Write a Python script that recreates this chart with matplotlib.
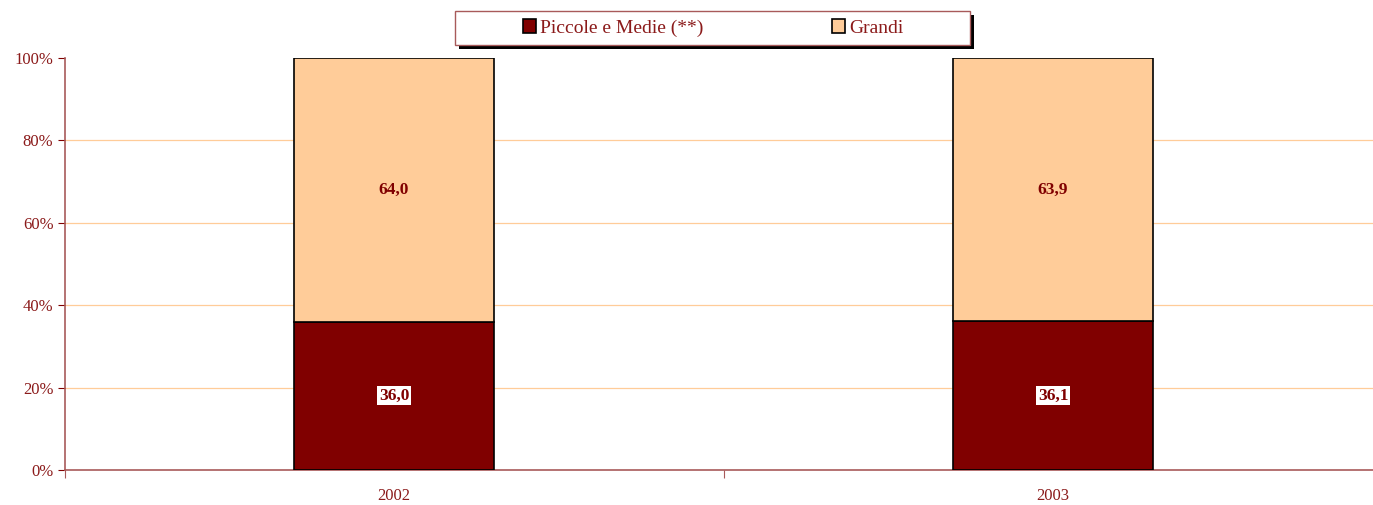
import numpy as np
import matplotlib
matplotlib.use("Agg")
import matplotlib.pyplot as plt
from matplotlib.patches import Rectangle
from matplotlib.ticker import FixedLocator, PercentFormatter

plt.rcParams["font.family"] = ["Liberation Serif", "DejaVu Serif"]

# --- data ---
years   = ["2002", "2003"]
piccole = [36.0, 36.1]
grandi  = [64.0, 63.9]
piccole_lbl = ["36,0", "36,1"]
grandi_lbl  = ["64,0", "63,9"]

MAROON = "#800000"
PEACH  = "#FFCC99"
TXT    = "#8B1A1A"
SPINE  = "#A85A5A"

fig = plt.figure(figsize=(13.73, 5.05), dpi=100)
# axes runs a little past the right edge, like the original
ax = fig.add_axes([0.0470, 0.0693, 0.9600, 0.8158])

x = np.arange(len(years))
w = 0.3035
b1 = ax.bar(x, piccole, w, color=MAROON, edgecolor="black", linewidth=1.2,
            label="Piccole e Medie (**)", zorder=3)
b2 = ax.bar(x, grandi, w, bottom=piccole, color=PEACH, edgecolor="black",
            linewidth=1.2, label="Grandi", zorder=3)

for xi, p, g, pl, gl in zip(x, piccole, grandi, piccole_lbl, grandi_lbl):
    ax.text(xi, p / 2, pl, ha="center", va="center", fontsize=12.5,
            fontweight="bold", color=MAROON, zorder=4,
            bbox=dict(facecolor="white", edgecolor="none", pad=1.0))
    ax.text(xi, p + g / 2, gl, ha="center", va="center", fontsize=12.5,
            fontweight="bold", color=MAROON, zorder=4)

ax.set_xlim(-0.5, 1.5)
ax.set_ylim(0, 100)

# gridlines
for gy in [20, 40, 60, 80]:
    ax.axhline(gy, color=PEACH, linewidth=0.9, zorder=1)

ax.yaxis.set_major_locator(FixedLocator([0, 20, 40, 60, 80, 100]))
ax.yaxis.set_major_formatter(PercentFormatter(decimals=0))
ax.tick_params(axis="y", direction="out", length=5, color=MAROON,
               labelcolor=TXT, labelsize=12, pad=3)

ax.set_xticks([-0.5, 0.5, 1.5])
ax.set_xticklabels(["", "", ""])
ax.set_xticks(x, minor=True)
ax.set_xticklabels(years, minor=True)
ax.tick_params(axis="x", which="major", direction="out", length=6, color=SPINE)
ax.tick_params(axis="x", which="minor", length=0, labelcolor=TXT,
               labelsize=12, pad=19)
for lbl in ax.get_xticklabels(minor=True):
    lbl.set_verticalalignment("center")

for s in ["top", "right"]:
    ax.spines[s].set_visible(False)
for s in ["left", "bottom"]:
    ax.spines[s].set_color(SPINE)
    ax.spines[s].set_linewidth(1.2)

# legend box with shadow, drawn by hand for the wide padding
bx, by, bw, bh = 455 / 1373, 1 - 45 / 505, 515 / 1373, 34 / 505
fig.patches.append(Rectangle((bx + 4 / 1373, by - 4 / 505), bw, bh,
                             transform=fig.transFigure, facecolor="black",
                             edgecolor="none", zorder=5))
fig.patches.append(Rectangle((bx, by), bw, bh, transform=fig.transFigure,
                             facecolor="white", edgecolor=SPINE,
                             linewidth=1.0, zorder=6))

leg = fig.legend(handles=[b1, b2], loc="center", ncol=2,
                 bbox_to_anchor=(0.5193, 0.9446), frameon=False,
                 fontsize=14, handlelength=0.7, handleheight=0.7,
                 handletextpad=0.2, columnspacing=6.6, borderaxespad=0)
leg.set_zorder(7)
for t in leg.get_texts():
    t.set_color(TXT)

fig.savefig("out.png", dpi=100)
